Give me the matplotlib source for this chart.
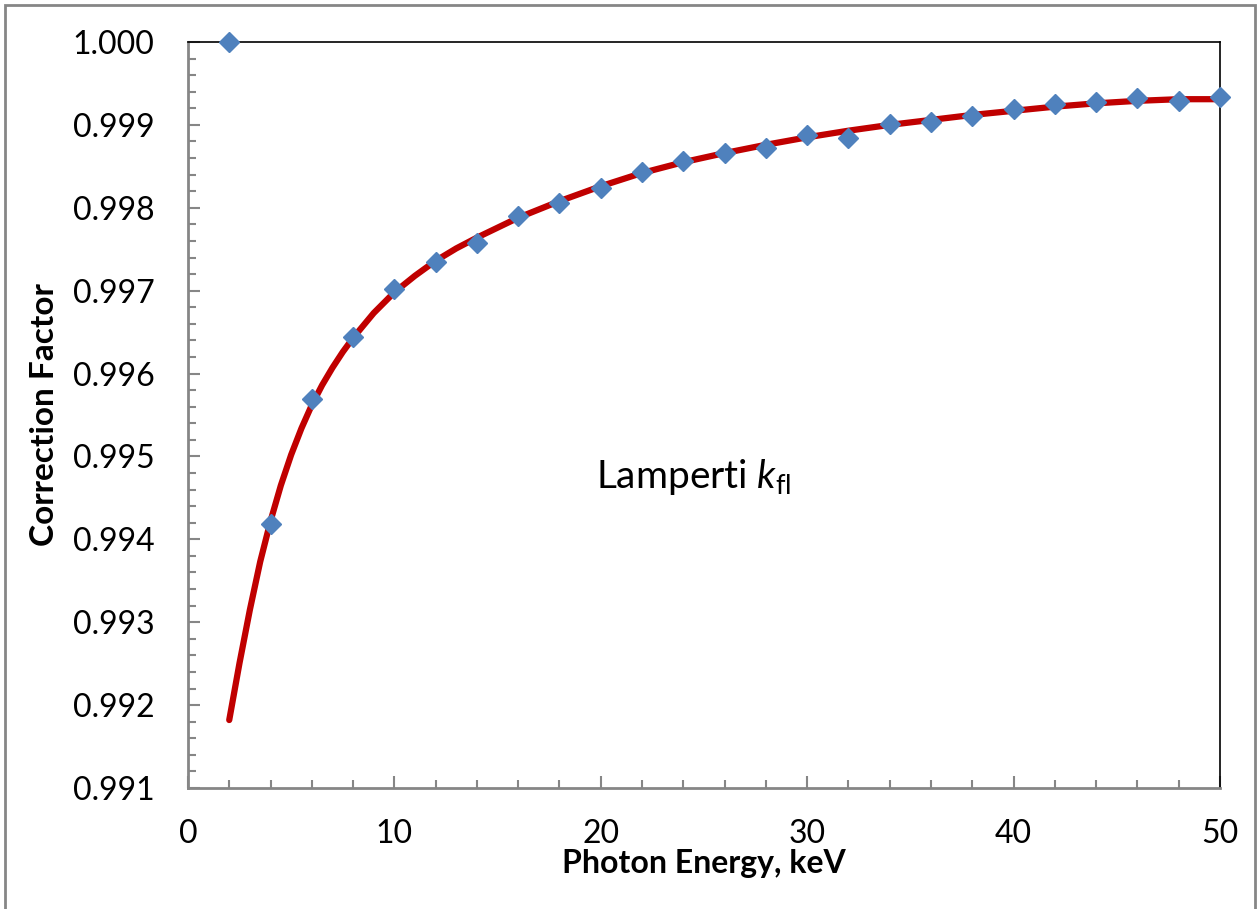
import matplotlib.pyplot as plt
import matplotlib.patches as patches
from matplotlib.ticker import MultipleLocator, FormatStrFormatter

plt.rcParams['font.family'] = ['Lato', 'DejaVu Sans']
plt.rcParams['mathtext.fontset'] = 'custom'
plt.rcParams['mathtext.rm'] = 'Lato'
plt.rcParams['mathtext.it'] = 'Lato:italic'

# calculated points (diamonds)
energy = [2, 4, 6, 8, 10, 12, 14, 16, 18, 20, 22, 24, 26,
          28, 30, 32, 34, 36, 38, 40, 42, 44, 46, 48, 50]
k_fl = [1.00000, 0.99419, 0.99569, 0.99644, 0.99702, 0.99735, 0.99758,
        0.99790, 0.99806, 0.99824, 0.99843, 0.99856, 0.99866, 0.99872,
        0.99888, 0.99884, 0.99901, 0.99904, 0.99911, 0.99919, 0.99925,
        0.99928, 0.99933, 0.99929, 0.99934]

# fitted trend line
fit_x = [2.0, 2.5, 3.0, 3.5, 4.0, 4.5, 5.0, 5.5, 6.0, 6.5, 7.0, 7.5, 8.0,
         9, 10, 11, 12, 13, 14, 16, 18, 20, 22, 24, 26, 28, 30, 32, 34,
         36, 38, 40, 42, 44, 46, 48, 50]
fit_y = [0.99182, 0.99251, 0.99315, 0.99373, 0.99422, 0.99465, 0.99502,
         0.99534, 0.99562, 0.99586, 0.99607, 0.99626, 0.99643, 0.99673,
         0.99698, 0.99718, 0.99736, 0.99751, 0.99764, 0.99788, 0.99808,
         0.99826, 0.99842, 0.99855, 0.99866, 0.99876, 0.99885, 0.99893,
         0.99900, 0.99906, 0.99912, 0.99917, 0.99922, 0.99926, 0.99929,
         0.99931, 0.99931]

fig = plt.figure(figsize=(12.58, 9.09), dpi=100)
ax = fig.add_axes([0.1494, 0.1331, 0.8204, 0.8207])

ax.plot(fit_x, fit_y, color='#C00000', linewidth=4.5, solid_capstyle='round',
        solid_joinstyle='round', zorder=2)
ax.plot(energy, k_fl, linestyle='none', marker='D', markersize=10.5,
        color='#4F81BD', markeredgecolor='#4F81BD', zorder=3, clip_on=False)

ax.set_xlim(0, 50)
ax.set_ylim(0.991, 1.000)
ax.xaxis.set_major_locator(MultipleLocator(10))
ax.xaxis.set_minor_locator(MultipleLocator(2))
ax.yaxis.set_major_locator(MultipleLocator(0.001))
ax.yaxis.set_minor_locator(MultipleLocator(0.0002))
ax.yaxis.set_major_formatter(FormatStrFormatter('%.3f'))

ax.tick_params(which='both', direction='in', colors='#868686', width=1.5,
               labelcolor='black', labelsize=23)
ax.tick_params(which='major', length=8.5)
ax.tick_params(which='minor', length=6)
ax.tick_params(axis='y', which='major', pad=24)
ax.tick_params(axis='x', which='major', pad=22)

for s in ['left', 'bottom']:
    ax.spines[s].set_color('#868686')
    ax.spines[s].set_linewidth(2)
for s in ['top', 'right']:
    ax.spines[s].set_color('black')
    ax.spines[s].set_linewidth(1.2)

ax.set_xlabel('Photon Energy, keV', fontsize=23, fontweight='bold', labelpad=0)
ax.set_ylabel('Correction Factor', fontsize=24, fontweight='bold', labelpad=10)

ax.text(0.49, 0.417, r'Lamperti $\mathit{k}_{\mathrm{fl}}$', transform=ax.transAxes,
        fontsize=28, ha='center', va='center')

# outer chart frame
fig.patches.append(patches.Rectangle((5 / 1258, -0.01), 1250 / 1258, 1.0 - 5 / 909 + 0.01,
                                     transform=fig.transFigure, fill=False,
                                     edgecolor='#868686', linewidth=2))

fig.savefig('out.png', dpi=100)
